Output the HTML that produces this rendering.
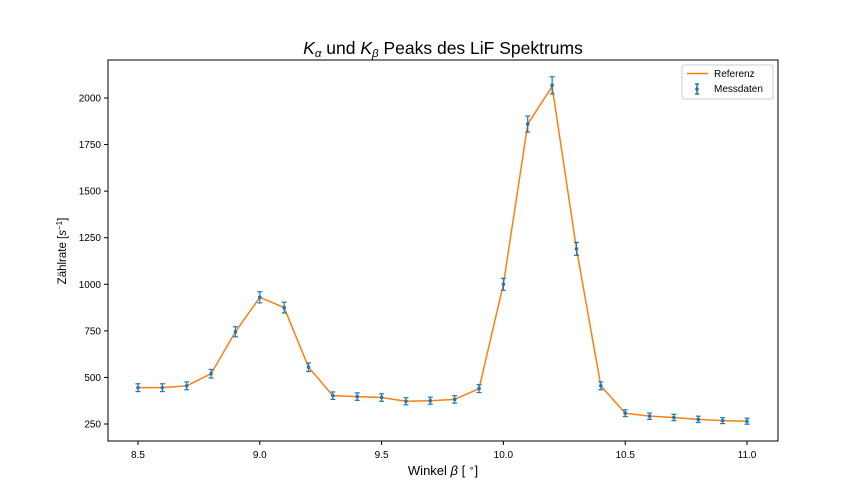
<!DOCTYPE html>
<html><head><meta charset="utf-8"><style>
body{margin:0;background:#fff;}
svg{display:block;font-family:"Liberation Sans","DejaVu Sans",sans-serif;}
</style></head><body>
<svg id="chart" width="864" height="504">
<g id="grid"></g>
</svg>
<script>
const angles=[8.5,8.6,8.7,8.8,8.9,9.0,9.1,9.2,9.3,9.4,9.5,9.6,9.7,9.8,9.9,10.0,10.1,10.2,10.3,10.4,10.5,10.6,10.7,10.8,10.9,11.0];
const rates=[445,445,455,520,745,930,875,555,402,397,392,372,375,382,440,1000,1860,2068,1190,455,308,292,285,275,268,265];
const errors=[21,21,21,23,27,30,29,23,20,20,20,19,19,20,21,32,43,46,35,21,18,17,17,17,16,16];
const reference=[445,445,455,520,745,930,875,555,402,397,392,372,375,382,440,1000,1860,2062,1190,455,308,292,285,275,268,265];
const xTicks=[8.5,9.0,9.5,10.0,10.5,11.0];
const xTickLabels=["8.5","9.0","9.5","10.0","10.5","11.0"];
const yTicks=[250,500,750,1000,1250,1500,1750,2000];
const yTickLabels=["250","500","750","1000","1250","1500","1750","2000"];

const L=108,R=778,T=60,B=441;
const xs=v=>138+(v-8.5)*(747-138)/2.5;
const ys=v=>424-(v-250)*(424-98)/1750;
const svg=document.getElementById('chart');
const NS='http://www.w3.org/2000/svg';
function mk(tag,attrs,parent){const e=document.createElementNS(NS,tag);for(const k in attrs)e.setAttribute(k,attrs[k]);(parent||svg).appendChild(e);return e;}

const frame=mk('rect',{x:L,y:T,width:R-L,height:B-T,fill:'none',stroke:'#000','stroke-width':1});



xTicks.forEach((t,i)=>{
  const x=xs(t);
  const tk=mk('line',{x1:x,x2:x,y1:B,y2:B+4,stroke:'#000'});
  
  
  const lb=mk('text',{x:x,y:B+17,'text-anchor':'middle','font-size':10});
  lb.textContent=xTickLabels[i];
  
  
});
yTicks.forEach((t,i)=>{
  const y=ys(t);
  const tk=mk('line',{x1:L-4,x2:L,y1:y,y2:y,stroke:'#000'});
  
  
  const lb=mk('text',{x:L-7,y:y+3.5,'text-anchor':'end','font-size':10});
  lb.textContent=yTickLabels[i];
  
  
});

const pts=angles.map((a,i)=>xs(a)+','+ys(reference[i])).join(' ');
const line=mk('polyline',{points:pts,fill:'none',stroke:'#ff7f0e','stroke-width':1.5});



angles.forEach((a,i)=>{
  const x=xs(a),y1=ys(rates[i]-errors[i]),y2=ys(rates[i]+errors[i]);
  const g=mk('g',{stroke:'#1f77b4','stroke-width':1.2});
  
  
  mk('line',{x1:x,x2:x,y1:y1,y2:y2},g);
  mk('line',{x1:x-2.5,x2:x+2.5,y1:y1,y2:y1},g);
  mk('line',{x1:x-2.5,x2:x+2.5,y1:y2,y2:y2},g);
  mk('circle',{cx:x,cy:ys(rates[i]),r:1.8,fill:'#1f77b4',stroke:'none'},g);
});
</script>
<svg style="position:absolute;left:0;top:0" width="864" height="504">
<g>
<rect x="682" y="65" width="91" height="34" rx="2" fill="#fff" stroke="#ccc"/>
<line x1="687" y1="73.5" x2="708" y2="73.5" stroke="#ff7f0e" stroke-width="1.5"/>
<text x="714" y="77" font-size="10">Referenz</text>
<line x1="697" y1="84" x2="697" y2="94" stroke="#1f77b4" stroke-width="1.5"/>
<line x1="695" y1="84" x2="699" y2="84" stroke="#1f77b4" stroke-width="1.5"/>
<line x1="695" y1="94" x2="699" y2="94" stroke="#1f77b4" stroke-width="1.5"/>
<circle cx="697" cy="89" r="1.8" fill="#1f77b4"/>
<text x="714" y="92" font-size="10">Messdaten</text>
</g>
<text x="443" y="54" text-anchor="middle" font-size="17.5"><tspan font-style="italic">K</tspan><tspan font-size="11.5" font-style="italic" dy="3">α</tspan><tspan dy="-3"> und </tspan><tspan font-style="italic">K</tspan><tspan font-size="11.5" font-style="italic" dy="3">β</tspan><tspan dy="-3"> Peaks des LiF Spektrums</tspan></text>
<text x="443" y="475" text-anchor="middle" font-size="13">Winkel <tspan font-style="italic">β</tspan> [ <tspan font-size="9" dy="-4">∘</tspan><tspan dy="4">]</tspan></text>
<text transform="translate(66,251) rotate(-90)" text-anchor="middle" font-size="11.5">Zählrate [<tspan font-style="italic">s</tspan><tspan font-size="8" dy="-4">−1</tspan><tspan dy="4">]</tspan></text>
</svg>
</body></html>
